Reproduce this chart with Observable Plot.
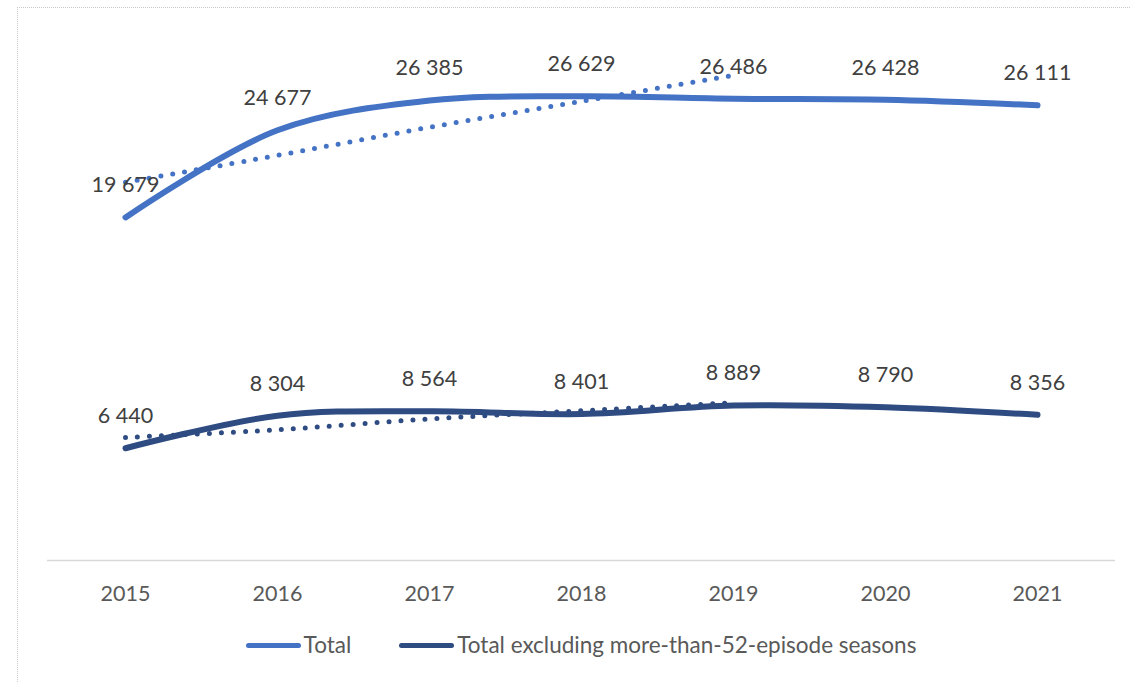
<!DOCTYPE html>
<html>
<head>
<meta charset="utf-8">
<script src="https://cdn.jsdelivr.net/npm/d3@7"></script>
<script src="https://cdn.jsdelivr.net/npm/@observablehq/plot@0.6"></script>
<style>
  html, body { margin: 0; padding: 0; background: #fff; overflow: hidden; }
  body { width: 1131px; height: 682px; position: relative; font-family: Lato, "Open Sans", sans-serif; }
  #frame { position: absolute; left: 17px; top: 7px; width: 1200px; height: 800px;
           border-top: 1.5px dotted #c8c8c8; border-left: 1.5px dotted #c8c8c8; pointer-events: none; }
  #chart { position: absolute; left: 0; top: 0; }
  #legend { position: absolute; left: 47px; top: 630px; width: 1068px; display: flex; justify-content: center;
            align-items: center; gap: 48px; font-size: 22.5px; color: #595959; line-height: 30px; }
  .item { display: flex; align-items: center; }
  .sw { width: 55px; height: 5px; border-radius: 3px; margin-right: 3px; }
</style>
</head>
<body>
<div id="frame"></div>
<div id="chart"></div>
<div id="legend"></div>
<script>
const years = [2015, 2016, 2017, 2018, 2019, 2020, 2021];
const total = [19679, 24677, 26385, 26629, 26486, 26428, 26111];
const excl = [6440, 8304, 8564, 8401, 8889, 8790, 8356];
const trendYears = [2015, 2016, 2017, 2018, 2019];
const totalTrend = [21690, 23240, 24850, 26340, 27830];
const exclTrend = [7060, 7500, 8120, 8590, 9050];
const seriesNames = ["Total", "Total excluding more-than-52-episode seasons"];
const colors = ["#4472C4", "#2E4B82"];

const fmt = v => d3.format(",")(v).replace(/,/g, " ");
const main = years.flatMap((y, i) => [
  {year: y, value: total[i], s: seriesNames[0]},
  {year: y, value: excl[i], s: seriesNames[1]}
]);
const trend = trendYears.flatMap((y, i) => [
  {year: y, value: totalTrend[i], s: seriesNames[0]},
  {year: y, value: exclTrend[i], s: seriesNames[1]}
]);

const plot = Plot.plot({
  width: 1131,
  height: 615,
  marginLeft: 47,
  marginRight: 16,
  marginTop: 37,
  marginBottom: 55,
  style: {fontFamily: "Lato, 'Open Sans', sans-serif", background: "transparent"},
  x: {type: "point", domain: years, padding: 0.5, label: null},
  y: {domain: [0, 30000], axis: null},
  color: {domain: seriesNames, range: colors},
  marks: [
    Plot.ruleY([0], {stroke: "#d9d9d9", strokeWidth: 1.5}),
    Plot.axisX({tickSize: 0, tickPadding: 25, fontSize: 21.5, color: "#595959", tickFormat: d => String(d)}),
    Plot.line(trend, {x: "year", y: "value", z: "s", stroke: "s", strokeWidth: 5,
      strokeDasharray: "0 12", strokeLinecap: "round", curve: "catmull-rom"}),
    Plot.line(main, {x: "year", y: "value", z: "s", stroke: "s", strokeWidth: 6,
      strokeLinecap: "round", curve: "catmull-rom"}),
    Plot.text(main, {x: "year", y: "value", text: d => fmt(d.value), dy: -32, fontSize: 21.5, fill: "#404040"})
  ]
});
document.getElementById("chart").appendChild(plot);

const legend = document.getElementById("legend");
seriesNames.forEach((n, i) => {
  const it = document.createElement("div");
  it.className = "item";
  it.innerHTML = `<span class="sw" style="background:${colors[i]}"></span><span>${n}</span>`;
  legend.appendChild(it);
});
</script>
</body>
</html>
